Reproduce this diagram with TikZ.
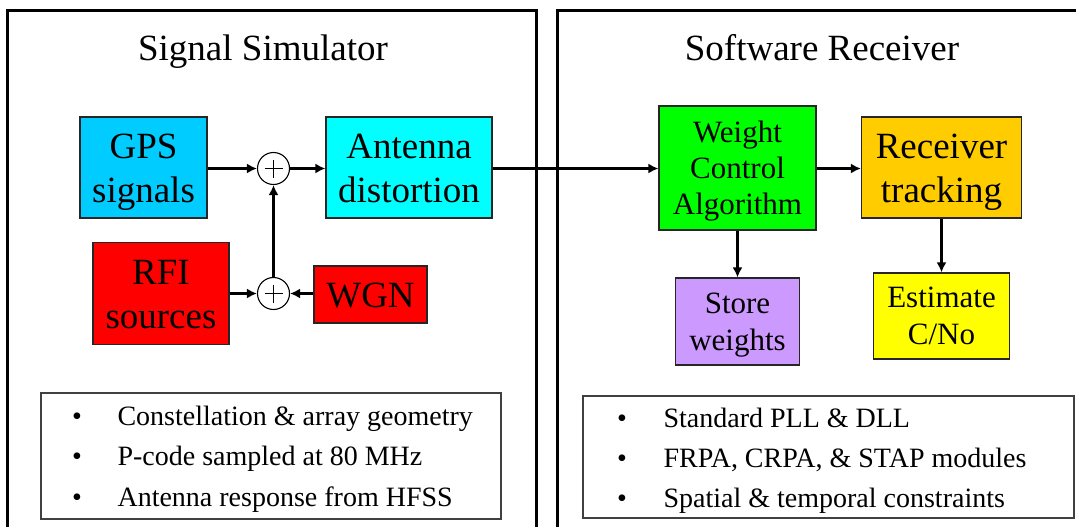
\documentclass[tikz,border=0pt]{standalone}
\usepackage{fontspec}
\setmainfont{Liberation Serif}
\usetikzlibrary{arrows.meta}

\definecolor{gpsblue}{HTML}{00CCFF}
\definecolor{antcyan}{HTML}{00FFFF}
\definecolor{rfired}{HTML}{FF0000}
\definecolor{wcagreen}{HTML}{00FF00}
\definecolor{rtorange}{HTML}{FFCC00}
\definecolor{storepurple}{HTML}{CC99FF}
\definecolor{estyellow}{HTML}{FFFF00}
\definecolor{listframe}{HTML}{404040}

% line struts so the block labels sit like text-box lines
\newcommand{\lgline}{\rule[-9pt]{0pt}{43pt}}
\newcommand{\smline}{\rule[-8pt]{0pt}{36pt}}

\tikzset{
  panel/.style={line width=3pt, draw=black},
  block/.style={draw=black!85, line width=1.1pt, align=center, inner sep=0pt,
                font=\fontsize{37}{44}\selectfont},
  smallblock/.style={block, font=\fontsize{31}{37}\selectfont},
  summer/.style={circle, draw=black, line width=1.1pt, fill=white,
                 minimum size=32pt, inner sep=0pt},
  flow/.style={line width=3pt, -{Latex[length=10pt,width=10pt]}},
  listbox/.style={draw=listframe, line width=1.5pt, inner sep=0pt},
  title/.style={anchor=base, font=\fontsize{37}{44}\selectfont},
  bullet/.style={anchor=base, font=\fontsize{28}{34}\selectfont},
  item/.style={anchor=base west, font=\fontsize{28}{34}\selectfont},
}

\begin{document}
\begin{tikzpicture}[x=1pt, y=-1pt]
\useasboundingbox (0,0) rectangle (1076,527);

% the two panel frames run off the lower edge
\begin{scope}
  \clip (0,0) rectangle (1076,527);
  \draw[panel] (7.5,540) -- (7.5,10.5) -- (536.5,10.5) -- (536.5,540);
  \draw[panel] (557.5,540) -- (557.5,10.5) -- (1090,10.5);
\end{scope}

% panel titles
\node[title] (simtitle) at (263,60) {Signal Simulator};
\node[title] (rxtitle) at (822,60) {Software Receiver};

% signal simulator blocks
\node[block, fill=gpsblue, minimum width=127pt, minimum height=101pt] (gps) at (143.5,167.5) {\lgline GPS\\\lgline signals};
\node[block, fill=antcyan, minimum width=166pt, minimum height=101pt] (ant) at (409,167.5) {\lgline Antenna\\\lgline distortion};
\node[block, fill=rfired, minimum width=136pt, minimum height=102pt] (rfi) at (161,293.5) {\lgline RFI\\\lgline sources};
\node[block, fill=rfired, minimum width=113pt, minimum height=57pt] (wgn) at (370.5,294.5) {\lgline WGN};

\node[summer] (s1) at (273.5,168.5) {};
\node[summer] (s2) at (273.5,293.5) {};
\foreach \s in {s1,s2}{
  \draw[line width=1.2pt] ([xshift=-9pt]\s.center) -- ([xshift=9pt]\s.center);
  \draw[line width=1.2pt] ([yshift=-9pt]\s.center) -- ([yshift=9pt]\s.center);
}

% software receiver blocks
\node[smallblock, fill=wcagreen, minimum width=157pt, minimum height=124pt, font=\fontsize{31}{36}\selectfont] (wca) at (737.5,168) {\smline Weight\\\smline Control\\\smline Algorithm};
\node[block, fill=rtorange, minimum width=160pt, minimum height=101pt] (rt) at (941.5,167.5) {\lgline Receiver\\\lgline tracking};
\node[smallblock, fill=storepurple, minimum width=124pt, minimum height=87pt] (store) at (737.5,321.5) {\smline Store\\\smline weights};
\node[smallblock, fill=estyellow, minimum width=136pt, minimum height=86pt] (est) at (941.5,316) {\smline Estimate\\\smline C/No};

% signal flow
\draw[flow] (gps.east |- s1) -- (s1.west);
\draw[flow] (s1.east) -- (ant.west |- s1);
\draw[flow] (s2.north) -- (s1.south);
\draw[flow] (rfi.east |- s2) -- (s2.west);
\draw[flow] (wgn.west |- s2) -- (s2.east);
\draw[flow] (ant.east |- s1) -- (wca.west |- s1);
\draw[flow] (wca.east |- s1) -- (rt.west |- s1);
\draw[flow] (wca.south) -- (store.north);
\draw[flow] (rt.south) -- (est.north);

% feature lists
\node[listbox, minimum width=460pt, minimum height=126pt] (simlist) at (271,456) {};
\node[bullet] (sb1) at (77,425) {•};
\node[bullet] (sb2) at (77,465) {•};
\node[bullet] (sb3) at (77,506) {•};
\node[item] (si1) at (114,425) {Constellation \& array geometry};
\node[item] (si2) at (114,465) {P-code sampled at 80 MHz};
\node[item] (si3) at (114,506) {Antenna response from HFSS};

\node[listbox, minimum width=491pt, minimum height=122pt] (rxlist) at (828.5,457) {};
\node[bullet] (rb1) at (622,427) {•};
\node[bullet] (rb2) at (622,467) {•};
\node[bullet] (rb3) at (622,507) {•};
\node[item] (ri1) at (660,427) {Standard PLL \& DLL};
\node[item] (ri2) at (660,467) {FRPA, CRPA, \& STAP modules};
\node[item] (ri3) at (660,507) {Spatial \& temporal constraints};
\end{tikzpicture}
\end{document}
